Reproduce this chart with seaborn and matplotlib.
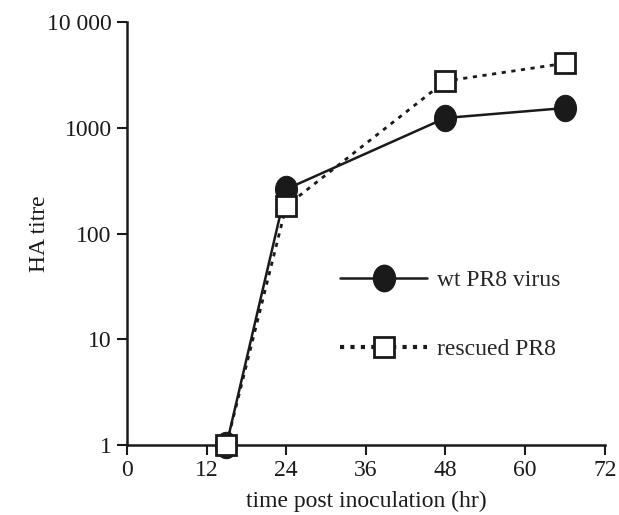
"""Growth curves of wt and rescued PR8 virus (HA titre over time)."""

import matplotlib.pyplot as plt
import pandas as pd
import seaborn as sns
from matplotlib.lines import Line2D
from matplotlib.path import Path
from matplotlib.transforms import Affine2D

hours = [15, 24, 48, 66]
wt_titre = [1, 263, 1240, 1540]
rescued_titre = [1, 182, 2770, 4080]

x_ticks = [0, 12, 24, 36, 48, 60, 72]
y_ticks = [1, 10, 100, 1000, 10000]
y_tick_labels = ['1', '10', '100', '1000', '10 000']

sns.set_theme(style="ticks")
plt.rcParams['font.family'] = ['Liberation Serif', 'DejaVu Serif']
plt.rcParams['font.size'] = 17

df = pd.concat([
    pd.DataFrame({'hours': hours, 'titre': wt_titre, 'series': 'wt PR8 virus'}),
    pd.DataFrame({'hours': hours, 'titre': rescued_titre, 'series': 'rescued PR8'}),
])

# slightly tall ellipse for the wt marker
ellipse = Path.unit_circle().transformed(Affine2D().scale(1.0, 1.2))
ink = '#1a1a1a'

fig = plt.figure(figsize=(6.19, 5.15), dpi=100)
ax = fig.add_axes([0.205, 0.136, 0.772, 0.821])

sns.lineplot(data=df[df.series == 'wt PR8 virus'], x='hours', y='titre', ax=ax,
             color=ink, lw=1.8, marker=ellipse, markersize=19,
             markerfacecolor=ink, markeredgecolor=ink,
             clip_on=False, zorder=3, legend=False)
sns.lineplot(data=df[df.series == 'rescued PR8'], x='hours', y='titre', ax=ax,
             color=ink, lw=2.0, linestyle=(0, (1.5, 2.0)), marker='s',
             markersize=14.5, markerfacecolor='white', markeredgecolor=ink,
             markeredgewidth=2, clip_on=False, zorder=4, legend=False)

ax.set_yscale('log')
ax.set_xlim(0, 72)
ax.set_ylim(1, 10000)
ax.set_xticks(x_ticks)
ax.set_xticklabels([str(t) for t in x_ticks])
ax.set_yticks(y_ticks)
ax.set_yticklabels(y_tick_labels)
ax.minorticks_off()
ax.tick_params(direction='out', length=7, width=1.5, colors=ink,
               labelsize=17, pad=4)
for side in ['left', 'bottom']:
    ax.spines[side].set_linewidth(1.8)
    ax.spines[side].set_color(ink)
sns.despine(ax=ax)

ax.set_xlabel('time post inoculation (hr)', fontsize=17, color=ink, labelpad=7)
ax.set_ylabel('HA titre', fontsize=17, color=ink, labelpad=-2)

handles = [
    Line2D([], [], color=ink, lw=1.8, marker=ellipse, markersize=19,
           markerfacecolor=ink),
    Line2D([], [], color=ink, lw=3.0, linestyle=(0, (1.0, 1.5)), marker='s',
           markersize=14.5, markerfacecolor='white', markeredgewidth=2),
]
ax.legend(handles, ['wt PR8 virus', 'rescued PR8'], loc='center left',
          bbox_to_anchor=(0.446, 0.308), frameon=False, handlelength=3.7,
          handletextpad=0.4, labelspacing=2.0, borderpad=0, borderaxespad=0,
          fontsize=17)

fig.savefig('out.png', dpi=100)
plt.close(fig)
